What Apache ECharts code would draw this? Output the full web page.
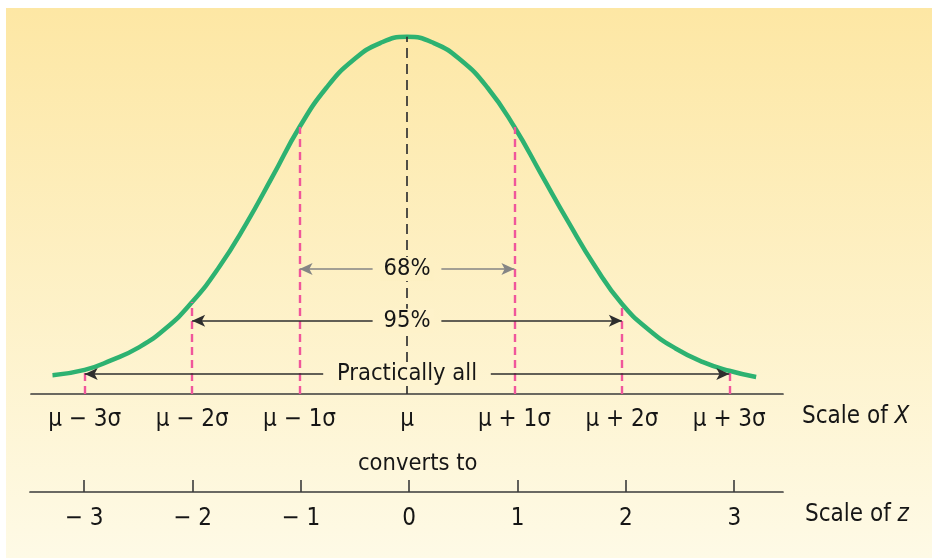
<!DOCTYPE html>
<html>
<head>
<meta charset="utf-8">
<script src="https://cdn.jsdelivr.net/npm/echarts@6/dist/echarts.min.js"></script>
<style>
html,body{margin:0;padding:0;background:#ffffff;}
#c{width:932px;height:558px;}
</style>
</head>
<body>
<div id="c"></div>
<script>
// ---- data ----
const curveZ = [-3.3,-3,-2.75,-2.5,-2.25,-2,-1.75,-1.5,-1.25,-1,-0.75,-0.5,-0.25,0,0.25,0.5,0.75,1,1.25,1.5,1.75,2,2.25,2.5,2.75,3,3.25];
const curveY = [0.021,0.027,0.038,0.052,0.073,0.103,0.142,0.190,0.244,0.299,0.343,0.374,0.393,0.400,0.393,0.374,0.343,0.299,0.246,0.193,0.143,0.101,0.072,0.051,0.036,0.026,0.019];
const sigmaMarks = [-3,-2,-1,1,2,3];
const xTickValues = [-3,-2,-1,0,1,2,3];
const xTickLabels = ['μ − 3σ','μ − 2σ','μ − 1σ','μ','μ + 1σ','μ + 2σ','μ + 3σ'];
const zTickValues = [-3,-2,-1,0,1,2,3];
const zTickLabels = ['− 3','− 2','− 1','0','1','2','3'];
const rangeLabels = ['68%','95%','Practically all'];
const rangeSpan = [1,2,3];
const rangeLevel = [0.140,0.082,0.0224];
const rangeGap = [0.32,0.32,0.78];

// ---- chart ----
const FONT = "'DejaVu Sans Condensed','Liberation Sans Narrow',sans-serif";
const TXT = '#161616';
const BG_TOP = [253,231,164], BG_BOT = [254,250,230];
const chart = echarts.init(document.getElementById('c'), null, {renderer:'canvas'});
const valAt = z => curveY[curveZ.indexOf(z)];
const curveData = curveZ.map((z,i)=>[z,curveY[i]]);

const marks = [];
marks.push([{coord:[0,0],symbol:'none',lineStyle:{color:'#333333',width:1.7,type:[10,6]}},{coord:[0,valAt(0)],symbol:'none'}]);
sigmaMarks.forEach(z=>{
  marks.push([{coord:[z,0],symbol:'none',lineStyle:{color:'#f0569b',width:2.4,type:[8,5]}},{coord:[z,valAt(z)],symbol:'none'}]);
});
rangeSpan.forEach((s,i)=>{
  const col = i===0 ? '#858585' : '#2e2e2e';
  const ls = {color:col,width:1.7,type:'solid'};
  marks.push([{coord:[-rangeGap[i],rangeLevel[i]],symbol:'none',lineStyle:ls},{coord:[-s,rangeLevel[i]],symbol:'arrow',symbolSize:[9,13]}]);
  marks.push([{coord:[rangeGap[i],rangeLevel[i]],symbol:'none',lineStyle:ls},{coord:[s,rangeLevel[i]],symbol:'arrow',symbolSize:[9,13]}]);
});

const zTickMarks = zTickValues.map(z=>[{coord:[z,0],symbol:'none',lineStyle:{color:'#3a3a3a',width:1.6,type:'solid'}},{coord:[z,0.24],symbol:'none'}]);

function bgAt(y){
  const t = Math.max(0,Math.min(1,(y-8)/550));
  const c = BG_TOP.map((v,k)=>Math.round(v+(BG_BOT[k]-v)*t));
  return 'rgb('+c.join(',')+')';
}

const labelItemStyle = {opacity:1,color:'rgba(0,0,0,0)'};

const option = {
  animation:false,
  backgroundColor:'#ffffff',
  graphic:[
    {type:'rect',z:-100,silent:true,shape:{x:6,y:8,width:926,height:550},
     style:{fill:new echarts.graphic.LinearGradient(0,0,0,1,[
       {offset:0,color:'rgb('+BG_TOP.join(',')+')'},
       {offset:1,color:'rgb('+BG_BOT.join(',')+')'}])}},
    {type:'text',left:802,top:405,silent:true,
     style:{text:'Scale of {i|X}',fontFamily:FONT,fontSize:24,fill:TXT,
       rich:{i:{fontStyle:'italic',fontFamily:FONT,fontSize:24,fill:TXT}}}},
    {type:'text',left:805,top:503,silent:true,
     style:{text:'Scale of {i|z}',fontFamily:FONT,fontSize:24,fill:TXT,
       rich:{i:{fontStyle:'italic',fontFamily:FONT,fontSize:24,fill:TXT}}}},
    {type:'text',left:358,top:452,silent:true,
     style:{text:'converts to',fontFamily:FONT,fontSize:23.5,fill:TXT}}
  ],
  grid:[
    {left:31,right:149,top:19,bottom:164},
    {left:30,right:149,top:442,bottom:66}
  ],
  xAxis:[
    {type:'value',gridIndex:0,min:-3.5,max:3.5,
     axisLine:{show:true,onZero:false,lineStyle:{color:'#3a3a3a',width:1.7}},
     axisTick:{show:false},axisLabel:{show:false},splitLine:{show:false}},
    {type:'value',gridIndex:1,min:-3.5,max:3.45,
     axisLine:{show:true,onZero:false,lineStyle:{color:'#3a3a3a',width:1.7}},
     axisTick:{show:false},axisLabel:{show:false},splitLine:{show:false}}
  ],
  yAxis:[
    {type:'value',gridIndex:0,min:0,max:0.42,show:false},
    {type:'value',gridIndex:1,min:0,max:1,show:false}
  ],
  series:[
    {type:'line',xAxisIndex:0,yAxisIndex:0,data:curveData,smooth:0.5,symbol:'none',clip:false,z:3,
     lineStyle:{color:'#2db271',width:4.5},
     markLine:{silent:true,animation:false,symbol:['none','none'],label:{show:false},
       emphasis:{disabled:true},data:marks}},
    {type:'scatter',xAxisIndex:0,yAxisIndex:0,symbolSize:0,clip:false,silent:true,z:6,itemStyle:labelItemStyle,
     data:xTickValues.map((v,i)=>({value:[v,0],label:{formatter:xTickLabels[i]}})),
     label:{show:true,position:'bottom',distance:12,fontFamily:FONT,fontSize:24,color:TXT,opacity:1,lineHeight:28}},
    {type:'scatter',xAxisIndex:0,yAxisIndex:0,symbolSize:0,clip:false,silent:true,z:6,id:'rangeText',itemStyle:labelItemStyle,
     data:rangeLevel.map((l,i)=>({value:[0,l],label:{formatter:rangeLabels[i]}})),
     label:{show:true,position:'inside',fontFamily:FONT,fontSize:23.5,color:TXT,opacity:1,padding:[0,3]}},
    {type:'scatter',xAxisIndex:1,yAxisIndex:1,symbolSize:0,clip:false,silent:true,z:6,itemStyle:labelItemStyle,
     data:zTickValues.map((v,i)=>({value:[v,0],label:{formatter:zTickLabels[i]}})),
     label:{show:true,position:'bottom',distance:13,fontFamily:FONT,fontSize:24,color:TXT,opacity:1,lineHeight:28},
     markLine:{silent:true,animation:false,symbol:['none','none'],label:{show:false},
       emphasis:{disabled:true},data:zTickMarks}}
  ]
};
chart.setOption(option);

// give range labels a background matching the panel gradient at their height
const rangeData = rangeLevel.map((l,i)=>{
  const py = chart.convertToPixel({gridIndex:0},[0,l])[1];
  return {value:[0,l],label:{formatter:rangeLabels[i],backgroundColor:bgAt(py)}};
});
chart.setOption({series:[{id:'rangeText',data:rangeData}]});
</script>
</body>
</html>
